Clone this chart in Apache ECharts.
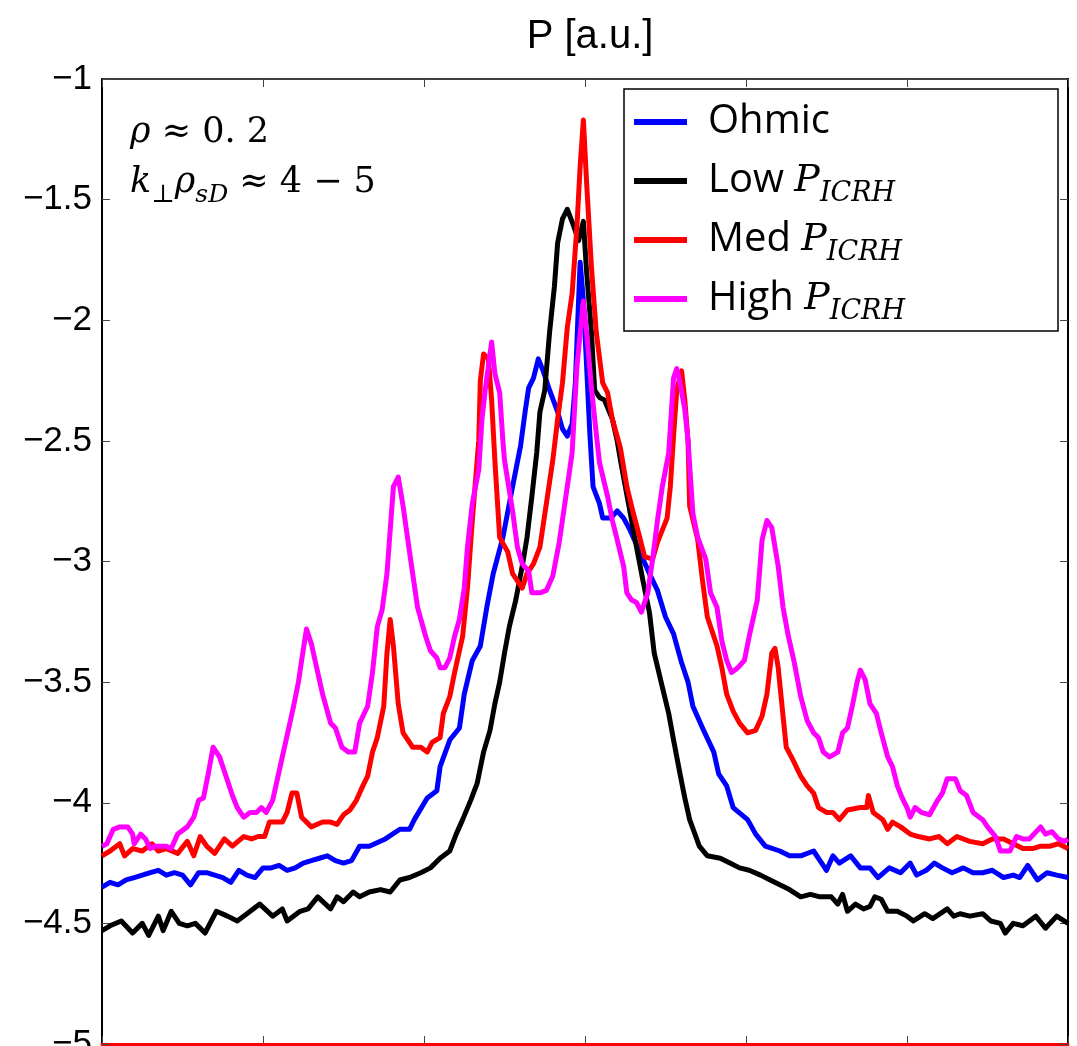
<!DOCTYPE html>
<html>
<head>
<meta charset="utf-8">
<script src="https://cdn.jsdelivr.net/npm/echarts@6/dist/echarts.min.js"></script>
<style>
html,body{margin:0;padding:0;background:#fff;}
#chart{width:1077px;height:1046px;}
</style>
</head>
<body>
<div id="chart"></div>
<script>
// ---- Data (x in axis units, y = log power [a.u.]) ----
const seriesNames = ['Ohmic', 'Low', 'Med', 'High'];
const yTicks = [-5, -4.5, -4, -3.5, -3, -2.5, -2, -1.5, -1];

const ohmic = [
[-3.00,-4.35],[-2.95,-4.33],[-2.90,-4.34],[-2.85,-4.32],[-2.80,-4.31],[-2.75,-4.30],[-2.70,-4.29],[-2.65,-4.28],
[-2.60,-4.30],[-2.55,-4.29],[-2.50,-4.30],[-2.45,-4.34],[-2.40,-4.29],[-2.35,-4.29],[-2.30,-4.30],[-2.25,-4.31],
[-2.20,-4.33],[-2.15,-4.28],[-2.10,-4.30],[-2.05,-4.31],[-2.00,-4.27],[-1.95,-4.27],[-1.90,-4.26],[-1.85,-4.28],
[-1.80,-4.27],[-1.75,-4.25],[-1.70,-4.24],[-1.65,-4.23],[-1.60,-4.22],[-1.55,-4.24],[-1.50,-4.25],[-1.45,-4.24],
[-1.40,-4.18],[-1.34,-4.18],[-1.24,-4.15],[-1.15,-4.11],[-1.09,-4.11],[-1.06,-4.07],[-0.98,-3.98],[-0.92,-3.95],
[-0.90,-3.85],[-0.84,-3.74],[-0.78,-3.69],[-0.75,-3.55],[-0.70,-3.41],[-0.65,-3.35],[-0.61,-3.19],[-0.57,-3.05],
[-0.51,-2.90],[-0.45,-2.69],[-0.40,-2.52],[-0.37,-2.37],[-0.35,-2.28],[-0.32,-2.24],[-0.29,-2.16],[-0.26,-2.21],
[-0.22,-2.29],[-0.17,-2.38],[-0.14,-2.45],[-0.11,-2.48],[-0.08,-2.43],[-0.06,-2.26],[-0.04,-1.92],[-0.03,-1.76],
[-0.01,-1.92],[0.01,-2.19],[0.03,-2.47],[0.05,-2.69],[0.09,-2.76],[0.11,-2.82],[0.16,-2.82],[0.20,-2.79],
[0.24,-2.82],[0.28,-2.87],[0.34,-2.96],[0.40,-3.05],[0.45,-3.12],[0.50,-3.23],[0.55,-3.30],[0.60,-3.42],
[0.64,-3.50],[0.67,-3.60],[0.73,-3.69],[0.80,-3.79],[0.83,-3.88],[0.88,-3.93],[0.92,-4.02],[1.01,-4.07],
[1.06,-4.13],[1.12,-4.18],[1.21,-4.20],[1.27,-4.22],[1.34,-4.22],[1.42,-4.20],[1.50,-4.28],[1.54,-4.22],
[1.58,-4.25],[1.65,-4.22],[1.71,-4.27],[1.77,-4.27],[1.82,-4.31],[1.89,-4.27],[1.96,-4.29],[2.02,-4.25],
[2.06,-4.30],[2.12,-4.28],[2.17,-4.25],[2.22,-4.27],[2.28,-4.29],[2.35,-4.27],[2.41,-4.29],[2.47,-4.29],
[2.53,-4.28],[2.60,-4.31],[2.66,-4.30],[2.70,-4.31],[2.75,-4.26],[2.81,-4.32],[2.87,-4.29],[2.93,-4.30],[3.00,-4.31]
];

const lowP = [
[-3.00,-4.53],[-2.95,-4.51],[-2.88,-4.49],[-2.81,-4.54],[-2.75,-4.50],[-2.71,-4.55],[-2.65,-4.47],[-2.62,-4.53],
[-2.57,-4.45],[-2.52,-4.50],[-2.47,-4.51],[-2.42,-4.50],[-2.36,-4.54],[-2.29,-4.45],[-2.22,-4.47],[-2.16,-4.49],
[-2.10,-4.46],[-2.02,-4.42],[-1.94,-4.47],[-1.88,-4.44],[-1.85,-4.49],[-1.77,-4.45],[-1.72,-4.44],[-1.66,-4.39],
[-1.58,-4.44],[-1.54,-4.39],[-1.50,-4.41],[-1.44,-4.37],[-1.40,-4.39],[-1.34,-4.37],[-1.27,-4.36],[-1.21,-4.37],
[-1.15,-4.32],[-1.09,-4.31],[-1.02,-4.29],[-0.96,-4.27],[-0.90,-4.23],[-0.84,-4.20],[-0.80,-4.13],[-0.76,-4.07],
[-0.71,-3.99],[-0.67,-3.92],[-0.63,-3.79],[-0.59,-3.70],[-0.56,-3.59],[-0.53,-3.50],[-0.50,-3.38],[-0.47,-3.27],
[-0.43,-3.16],[-0.39,-3.02],[-0.36,-2.90],[-0.33,-2.73],[-0.30,-2.55],[-0.28,-2.38],[-0.25,-2.29],[-0.22,-2.05],
[-0.19,-1.86],[-0.17,-1.68],[-0.14,-1.58],[-0.11,-1.54],[-0.07,-1.61],[-0.04,-1.67],[-0.01,-1.59],[0.01,-1.80],
[0.04,-2.05],[0.06,-2.29],[0.09,-2.32],[0.12,-2.33],[0.17,-2.41],[0.20,-2.50],[0.22,-2.58],[0.27,-2.76],
[0.32,-2.94],[0.36,-3.08],[0.40,-3.21],[0.43,-3.38],[0.48,-3.52],[0.52,-3.63],[0.55,-3.74],[0.59,-3.88],
[0.62,-3.98],[0.65,-4.07],[0.71,-4.18],[0.76,-4.22],[0.84,-4.23],[0.90,-4.25],[0.96,-4.27],[1.02,-4.28],
[1.09,-4.30],[1.15,-4.32],[1.21,-4.34],[1.27,-4.36],[1.34,-4.39],[1.40,-4.38],[1.46,-4.39],[1.53,-4.39],
[1.57,-4.42],[1.60,-4.38],[1.63,-4.45],[1.68,-4.42],[1.73,-4.44],[1.77,-4.43],[1.80,-4.39],[1.84,-4.40],
[1.88,-4.45],[1.94,-4.45],[2.00,-4.47],[2.04,-4.49],[2.11,-4.46],[2.16,-4.48],[2.25,-4.44],[2.29,-4.47],
[2.33,-4.46],[2.39,-4.47],[2.47,-4.46],[2.52,-4.49],[2.58,-4.50],[2.61,-4.54],[2.66,-4.50],[2.72,-4.51],
[2.80,-4.47],[2.86,-4.52],[2.93,-4.47],[3.00,-4.50]
];

const medP = [
[-3.00,-4.22],[-2.95,-4.20],[-2.89,-4.17],[-2.86,-4.22],[-2.81,-4.19],[-2.75,-4.20],[-2.69,-4.17],[-2.65,-4.20],
[-2.60,-4.19],[-2.53,-4.21],[-2.47,-4.16],[-2.43,-4.22],[-2.39,-4.14],[-2.35,-4.18],[-2.30,-4.21],[-2.24,-4.15],
[-2.19,-4.18],[-2.12,-4.14],[-2.07,-4.15],[-2.03,-4.14],[-1.99,-4.14],[-1.96,-4.08],[-1.88,-4.08],[-1.85,-4.04],
[-1.82,-3.96],[-1.79,-3.96],[-1.76,-4.06],[-1.70,-4.10],[-1.63,-4.08],[-1.58,-4.08],[-1.54,-4.09],[-1.50,-4.05],
[-1.46,-4.03],[-1.42,-3.99],[-1.38,-3.93],[-1.35,-3.89],[-1.32,-3.79],[-1.29,-3.73],[-1.25,-3.60],[-1.23,-3.38],
[-1.21,-3.24],[-1.19,-3.35],[-1.16,-3.59],[-1.13,-3.71],[-1.07,-3.77],[-1.02,-3.77],[-0.98,-3.79],[-0.95,-3.75],
[-0.90,-3.73],[-0.88,-3.63],[-0.84,-3.56],[-0.81,-3.46],[-0.76,-3.31],[-0.73,-3.11],[-0.70,-2.83],[-0.66,-2.50],
[-0.65,-2.25],[-0.63,-2.14],[-0.60,-2.16],[-0.58,-2.33],[-0.56,-2.58],[-0.53,-2.90],[-0.48,-2.96],[-0.45,-3.05],
[-0.39,-3.11],[-0.36,-3.05],[-0.32,-3.01],[-0.28,-2.94],[-0.24,-2.76],[-0.20,-2.58],[-0.17,-2.41],[-0.14,-2.26],
[-0.11,-2.03],[-0.08,-1.89],[-0.05,-1.61],[-0.03,-1.36],[-0.01,-1.17],[0.01,-1.43],[0.04,-1.78],[0.07,-2.05],
[0.11,-2.26],[0.14,-2.30],[0.17,-2.41],[0.22,-2.53],[0.26,-2.69],[0.30,-2.80],[0.34,-2.90],[0.37,-2.98],
[0.42,-2.99],[0.45,-2.92],[0.48,-2.87],[0.51,-2.82],[0.53,-2.69],[0.55,-2.48],[0.57,-2.29],[0.60,-2.21],
[0.62,-2.33],[0.64,-2.50],[0.65,-2.77],[0.70,-2.91],[0.73,-3.08],[0.76,-3.23],[0.82,-3.35],[0.85,-3.44],
[0.88,-3.55],[0.92,-3.62],[0.96,-3.67],[1.01,-3.71],[1.06,-3.70],[1.10,-3.64],[1.13,-3.55],[1.16,-3.38],
[1.18,-3.36],[1.20,-3.44],[1.23,-3.64],[1.25,-3.77],[1.29,-3.82],[1.34,-3.89],[1.38,-3.93],[1.42,-3.96],
[1.45,-4.02],[1.50,-4.04],[1.54,-4.04],[1.58,-4.07],[1.63,-4.03],[1.71,-4.02],[1.75,-4.02],[1.76,-3.97],
[1.79,-4.04],[1.85,-4.07],[1.88,-4.11],[1.91,-4.08],[1.96,-4.10],[2.02,-4.13],[2.07,-4.14],[2.14,-4.15],
[2.20,-4.14],[2.25,-4.17],[2.31,-4.14],[2.39,-4.16],[2.47,-4.17],[2.53,-4.15],[2.60,-4.15],[2.66,-4.17],
[2.72,-4.19],[2.78,-4.19],[2.83,-4.18],[2.89,-4.18],[2.94,-4.17],[3.00,-4.19]
];

const highP = [
[-3.00,-4.18],[-2.97,-4.17],[-2.93,-4.11],[-2.89,-4.10],[-2.84,-4.10],[-2.81,-4.13],[-2.80,-4.17],[-2.76,-4.13],
[-2.73,-4.15],[-2.70,-4.19],[-2.67,-4.18],[-2.60,-4.18],[-2.57,-4.19],[-2.53,-4.13],[-2.47,-4.10],[-2.43,-4.06],
[-2.40,-3.99],[-2.37,-3.98],[-2.34,-3.88],[-2.31,-3.77],[-2.27,-3.81],[-2.22,-3.91],[-2.19,-3.97],[-2.16,-4.02],
[-2.12,-4.06],[-2.08,-4.04],[-2.04,-4.04],[-2.01,-4.02],[-1.98,-4.04],[-1.94,-3.99],[-1.91,-3.90],[-1.88,-3.81],
[-1.84,-3.69],[-1.81,-3.60],[-1.78,-3.50],[-1.76,-3.41],[-1.73,-3.28],[-1.70,-3.34],[-1.66,-3.46],[-1.63,-3.55],
[-1.58,-3.67],[-1.55,-3.69],[-1.51,-3.77],[-1.47,-3.79],[-1.43,-3.79],[-1.40,-3.67],[-1.35,-3.60],[-1.32,-3.46],
[-1.29,-3.27],[-1.26,-3.20],[-1.23,-3.05],[-1.19,-2.69],[-1.16,-2.65],[-1.13,-2.77],[-1.09,-2.96],[-1.04,-3.19],
[-0.99,-3.31],[-0.96,-3.37],[-0.92,-3.40],[-0.90,-3.44],[-0.87,-3.44],[-0.84,-3.40],[-0.81,-3.31],[-0.78,-3.24],
[-0.75,-3.11],[-0.73,-2.94],[-0.70,-2.76],[-0.66,-2.62],[-0.64,-2.41],[-0.62,-2.29],[-0.60,-2.19],[-0.58,-2.09],
[-0.56,-2.22],[-0.53,-2.30],[-0.51,-2.50],[-0.50,-2.58],[-0.45,-2.79],[-0.42,-2.94],[-0.39,-3.01],[-0.35,-3.04],
[-0.33,-3.13],[-0.28,-3.13],[-0.24,-3.12],[-0.20,-3.06],[-0.16,-2.92],[-0.11,-2.69],[-0.08,-2.55],[-0.05,-2.19],
[-0.01,-1.92],[0.01,-2.05],[0.04,-2.28],[0.07,-2.47],[0.09,-2.59],[0.14,-2.73],[0.17,-2.83],[0.20,-2.91],
[0.24,-3.02],[0.26,-3.13],[0.29,-3.16],[0.32,-3.17],[0.35,-3.21],[0.39,-3.13],[0.42,-2.99],[0.45,-2.83],
[0.48,-2.69],[0.52,-2.55],[0.55,-2.24],[0.57,-2.20],[0.59,-2.26],[0.62,-2.37],[0.64,-2.50],[0.67,-2.80],
[0.70,-2.90],[0.75,-2.99],[0.78,-3.13],[0.82,-3.19],[0.85,-3.33],[0.88,-3.41],[0.91,-3.46],[0.95,-3.44],
[0.99,-3.41],[1.02,-3.31],[1.07,-3.16],[1.10,-2.91],[1.13,-2.83],[1.16,-2.86],[1.20,-3.02],[1.23,-3.19],
[1.26,-3.30],[1.30,-3.42],[1.34,-3.56],[1.38,-3.66],[1.42,-3.71],[1.45,-3.73],[1.48,-3.79],[1.52,-3.81],
[1.57,-3.79],[1.60,-3.71],[1.63,-3.69],[1.66,-3.60],[1.69,-3.50],[1.71,-3.45],[1.74,-3.49],[1.77,-3.59],
[1.81,-3.63],[1.84,-3.71],[1.88,-3.81],[1.91,-3.85],[1.94,-3.93],[1.97,-3.98],[2.00,-4.02],[2.02,-4.06],
[2.05,-4.02],[2.09,-4.04],[2.14,-4.05],[2.19,-3.99],[2.22,-3.96],[2.25,-3.90],[2.30,-3.90],[2.33,-3.95],
[2.37,-3.97],[2.41,-4.04],[2.47,-4.07],[2.50,-4.10],[2.55,-4.14],[2.58,-4.20],[2.64,-4.20],[2.68,-4.14],
[2.72,-4.15],[2.76,-4.15],[2.83,-4.10],[2.86,-4.13],[2.90,-4.12],[2.94,-4.15],[2.98,-4.16],[3.00,-4.15]
];

const colors = ['#0000ff', '#000000', '#ff0000', '#ff00ff'];
const dataSets = [ohmic, lowP, medP, highP];

const chart = echarts.init(document.getElementById('chart'), null, {renderer: 'canvas'});

const serif = "'DejaVu Serif', 'Liberation Serif', serif";
const sans = "'Open Sans', 'Noto Sans', sans-serif";
const helv = "'Liberation Sans', Arial, Helvetica, sans-serif";

const LH = 52;
const legendRich = {
  t: {fontFamily: sans, fontSize: 40, color: '#000', lineHeight: LH, padding: [0, 0, 0, 16]},
  p: {fontFamily: serif, fontStyle: 'italic', fontSize: 38, color: '#000', lineHeight: LH},
  s: {fontFamily: serif, fontStyle: 'italic', fontSize: 27, color: '#000', lineHeight: LH, verticalAlign: 'bottom'}
};

const legendLabels = {
  'Ohmic': '{t|Ohmic}',
  'Low': '{t|Low }{p|P}{s|ICRH}',
  'Med': '{t|Med }{p|P}{s|ICRH}',
  'High': '{t|High }{p|P}{s|ICRH}'
};

const axisTickStyle = {inside: true, length: 8, lineStyle: {color: '#444', width: 1}};

const option = {
  backgroundColor: '#ffffff',
  animation: false,
  title: {
    text: 'P [a.u.]',
    left: 585, top: 12, textAlign: 'center',
    textStyle: {fontFamily: helv, fontSize: 40, fontWeight: 'normal', color: '#000'}
  },
  grid: {left: 102, right: 9, top: 79, bottom: 2, containLabel: false, outerBoundsMode: 'none'},
  xAxis: [
    {type: 'value', min: -3, max: 3, interval: 1, position: 'bottom',
     axisLine: {show: true, onZero: false, lineStyle: {color: '#ff0000', width: 3}},
     axisTick: axisTickStyle, axisLabel: {show: false}, splitLine: {show: false}},
    {type: 'value', min: -3, max: 3, interval: 1, position: 'top',
     axisLine: {show: true, onZero: false, lineStyle: {color: '#000', width: 1.5}},
     axisTick: axisTickStyle, axisLabel: {show: false}, splitLine: {show: false}}
  ],
  yAxis: [
    {type: 'value', min: yTicks[0], max: yTicks[yTicks.length - 1], interval: 0.5, position: 'left',
     axisLine: {show: true, onZero: false, lineStyle: {color: '#000', width: 2}},
     axisTick: axisTickStyle,
     axisLabel: {show: true, margin: 10, color: '#000', fontSize: 35, fontFamily: helv,
       formatter: v => String(v).replace('-', '\u2212')},
     splitLine: {show: false}},
    {type: 'value', min: yTicks[0], max: yTicks[yTicks.length - 1], interval: 0.5, position: 'right',
     axisLine: {show: true, onZero: false, lineStyle: {color: '#000', width: 2}},
     axisTick: axisTickStyle, axisLabel: {show: false}, splitLine: {show: false}}
  ],
  legend: {
    data: seriesNames,
    orient: 'vertical',
    left: 634, top: 96,
    padding: 0,
    itemWidth: 53, itemHeight: 6, itemGap: 7,
    icon: 'rect',
    selectedMode: false,
    z: 5,
    formatter: name => legendLabels[name],
    textStyle: {rich: legendRich, lineHeight: LH}
  },
  graphic: [
    {type: 'rect', z: 4, shape: {x: 624, y: 89, width: 434, height: 242},
     style: {fill: '#fff', stroke: '#000', lineWidth: 1.5}},
    {type: 'text', z: 6, left: 130, top: 108,
     style: {
       text: '{i|\u03c1} \u2248 0. 2\n{i|k}{sb|\u22a5}{i|\u03c1}{si|sD} \u2248 4 \u2212 5',
       fill: '#000', font: "35px 'DejaVu Serif'", lineHeight: 50,
       rich: {
         i: {fontFamily: serif, fontStyle: 'italic', fontSize: 35, lineHeight: 50},
         sb: {fontFamily: serif, fontSize: 25, lineHeight: 50, verticalAlign: 'bottom'},
         si: {fontFamily: serif, fontStyle: 'italic', fontSize: 25, lineHeight: 50, verticalAlign: 'bottom'}
       }
     }}
  ],
  series: seriesNames.map((n, k) => ({
    name: n, type: 'line', data: dataSets[k],
    xAxisIndex: 0, yAxisIndex: 0,
    showSymbol: false, symbol: 'none',
    color: colors[k],
    lineStyle: {color: colors[k], width: 5, join: 'round'},
    z: 2 + k * 0.01
  }))
};

chart.setOption(option);
</script>
</body>
</html>
